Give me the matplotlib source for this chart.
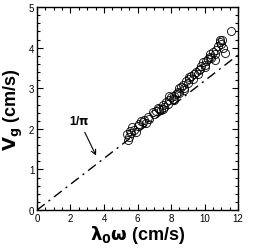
import numpy as np
import matplotlib
matplotlib.use("Agg")
import matplotlib.pyplot as plt
from matplotlib.ticker import MultipleLocator

# measured points (lambda_0 * omega, V_g)
lam_omega = [5.35, 5.45, 5.5, 5.6, 5.7, 5.8, 6.0, 6.1, 6.3, 6.4, 6.6, 6.7, 6.9,
             7.0, 7.1, 7.3, 7.4, 7.5, 7.6, 7.7, 7.8, 7.9, 8.0, 8.1, 8.2, 8.3,
             8.4, 8.5, 8.6, 8.7, 8.8, 8.9, 9.0, 9.1, 9.2, 9.3, 9.5, 9.6, 9.7,
             9.8, 9.9, 10.0, 10.1, 10.2, 10.3, 10.4, 10.5, 10.6, 10.7, 10.8,
             10.9, 11.0, 11.1, 11.2, 11.6,
             5.55, 5.9, 6.2, 6.5, 7.2, 7.55, 7.85, 8.15, 8.45, 8.75, 9.05,
             9.35, 9.65, 10.05, 10.35, 10.65, 10.95, 11.05]
v_g = [1.87, 1.72, 1.80, 1.90, 2.05, 1.98, 2.08, 2.12, 2.18, 2.22, 2.28, 2.25,
       2.41, 2.36, 2.45, 2.50, 2.46, 2.58, 2.55, 2.66, 2.62, 2.72, 2.78, 2.74,
       2.82, 2.86, 2.92, 2.88, 3.02, 3.08, 3.00, 3.19, 3.14, 3.24, 3.30, 3.22,
       3.40, 3.36, 3.48, 3.55, 3.64, 3.58, 3.66, 3.72, 3.78, 3.74, 3.89, 3.84,
       3.95, 4.05, 4.13, 4.08, 4.00, 3.88, 4.41,
       1.95, 1.92, 2.20, 2.15, 2.52, 2.48, 2.80, 2.70, 3.00, 2.95, 3.28,
       3.35, 3.45, 3.52, 3.85, 3.70, 4.18, 4.20]

# reference line slope
slope = 1 / np.pi
line_x = [0, 12]

plt.rcParams['font.family'] = ['Liberation Sans', 'DejaVu Sans']

fig = plt.figure(figsize=(2.66, 2.51), dpi=100)
ax = fig.add_axes([0.139, 0.159, 0.756, 0.809])

ax.plot(line_x, [slope * x for x in line_x], color='black', lw=1.0,
        dashes=(7, 3.5, 1.5, 3.5))
ax.plot(lam_omega, v_g, 'o', mfc='none', mec='black', ms=5.8, mew=0.6)

ax.annotate(r'1/$\mathbf{\pi}$', xy=(3.6, 1.28), xytext=(1.9, 2.12),
            fontsize=8.5, fontweight='bold',
            arrowprops=dict(arrowstyle='->', color='black', lw=0.8))

ax.set_xlim(0, 12)
ax.set_ylim(0, 5)
ax.xaxis.set_major_locator(MultipleLocator(2))
ax.xaxis.set_minor_locator(MultipleLocator(0.5))
ax.yaxis.set_major_locator(MultipleLocator(1))
ax.yaxis.set_minor_locator(MultipleLocator(0.2))
ax.tick_params(which='both', direction='in', top=True, right=True,
               labelsize=7, pad=2, width=0.8)
ax.tick_params(which='major', length=4)
ax.tick_params(which='minor', length=2)
for s in ax.spines.values():
    s.set_linewidth(1.0)

ax.set_xlabel(r'$\mathbf{\lambda_0\omega}$ (cm/s)', fontsize=13,
              fontweight='bold', labelpad=0)
ax.set_ylabel(r'$\mathbf{V_g}$ (cm/s)', fontsize=13, fontweight='bold',
              labelpad=3)

fig.savefig('out.png', dpi=100)
